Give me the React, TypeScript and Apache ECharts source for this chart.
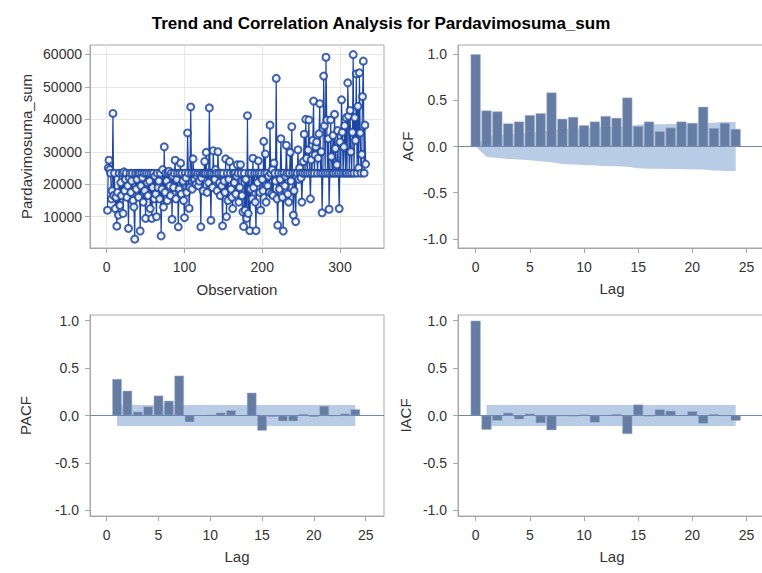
import React, { useEffect, useRef } from "react";
import * as echarts from "echarts";

// Pardavimosuma_sum by observation number (1..333)
const salesSum = [
  12000, 25000, 27400, 24500, 23400, 15500, 18000, 41800, 16500, 23400,
  12500, 16000, 7100, 17500, 10500, 23400, 13500, 20500, 16500, 23400,
  11000, 23800, 18000, 21500, 23400, 16000, 19500, 6400, 22000, 23400,
  17500, 21000, 23400, 15000, 13000, 3100, 23400, 18500, 21500, 23400,
  16000, 23400, 5600, 19500, 23400, 22000, 14500, 23400, 18000, 9500,
  23400, 20500, 16500, 23400, 21000, 12500, 23400, 9500, 19000, 23400,
  15500, 22500, 17000, 10000, 23400, 19000, 21000, 15500, 23400, 4100,
  18500, 24500, 13000, 31500, 17500, 23400, 21000, 15000, 23400, 24000,
  19500, 16500, 23400, 9200, 22500, 19000, 23400, 27400, 15500, 21500,
  23400, 6900, 18500, 23400, 26500, 17000, 23400, 21000, 15000, 9700,
  23400, 22000, 17500, 35800, 23400, 12600, 19000, 43800, 23400, 18500,
  27800, 23400, 21500, 23400, 20000, 22500, 23400, 19500, 21000, 23400,
  6900, 22000, 23400, 18000, 23400, 27000, 23400, 29800, 17500, 23400,
  20500, 43500, 23400, 8900, 23400, 19000, 30300, 23400, 21500, 24500,
  23400, 18000, 30000, 23400, 20500, 16500, 23400, 19500, 7200, 23400,
  21000, 17500, 27800, 10000, 23400, 15000, 21500, 27000, 23400, 18500,
  16000, 12500, 23400, 20500, 23400, 17000, 22500, 26000, 23400, 14500,
  19000, 26000, 23400, 16500, 11500, 7000, 23400, 12000, 21500, 9500,
  41100, 11000, 23400, 5700, 18500, 23400, 15500, 28000, 19000, 23400,
  14500, 5700, 23400, 20500, 27200, 23400, 17500, 12000, 23400, 21500,
  18000, 33200, 23400, 29300, 14500, 23400, 19500, 22500, 17500, 38200,
  23400, 17000, 24500, 16500, 26500, 23400, 21000, 52600, 15500, 7400,
  23400, 18500, 21500, 34000, 23400, 16000, 5600, 23400, 19500, 22500,
  32000, 23400, 17000, 14500, 23400, 29800, 21000, 37700, 23400, 10500,
  18000, 23400, 8500, 22500, 23400, 30600, 21500, 25000, 23400, 22000,
  14500, 23400, 27000, 35400, 23400, 40000, 28000, 23400, 30500, 39800,
  23400, 15500, 27500, 23400, 33500, 45600, 23400, 29000, 31500, 33000,
  23400, 28000, 35500, 44800, 23400, 30000, 11200, 23400, 53300, 38000,
  23400, 59100, 39800, 23400, 34000, 12300, 23400, 39800, 28500, 23400,
  35000, 23400, 41500, 31000, 23400, 26000, 36500, 23400, 12500, 33000,
  23400, 46000, 36000, 23400, 31500, 38000, 23400, 40500, 23400, 51200,
  41000, 23400, 42700, 30000, 23400, 36000, 59900, 23400, 40500, 33500,
  54000, 23400, 44000, 25000, 54300, 35800, 23400, 29200, 47000, 57900,
  23400, 38200, 26200,
];

const lagsFrom0 = [0, 1, 2, 3, 4, 5, 6, 7, 8, 9, 10, 11, 12, 13, 14, 15, 16, 17, 18, 19, 20, 21, 22, 23, 24];
const lagsFrom1 = [1, 2, 3, 4, 5, 6, 7, 8, 9, 10, 11, 12, 13, 14, 15, 16, 17, 18, 19, 20, 21, 22, 23, 24];

const acfValues = [
  1.0, 0.39, 0.38, 0.25, 0.27, 0.34, 0.36, 0.585, 0.3, 0.32, 0.23, 0.27, 0.33,
  0.31, 0.53, 0.22, 0.27, 0.165, 0.205, 0.27, 0.255, 0.43, 0.2, 0.255, 0.19,
];
// two standard-error limits for the ACF (lags 0..24)
const acfLimit = [
  0, 0.11, 0.125, 0.135, 0.14, 0.15, 0.16, 0.17, 0.19, 0.195, 0.2, 0.205, 0.21,
  0.215, 0.22, 0.235, 0.24, 0.24, 0.245, 0.245, 0.25, 0.25, 0.26, 0.265, 0.265,
];

const pacfValues = [
  0.385, 0.26, 0.04, 0.095, 0.21, 0.155, 0.42, -0.07, 0.0, 0.005, 0.03, 0.055,
  0.0, 0.24, -0.16, -0.015, -0.06, -0.06, 0.015, -0.015, 0.1, -0.005, 0.02, 0.065,
];
const pacfLimit = [
  0.11, 0.11, 0.11, 0.11, 0.11, 0.11, 0.11, 0.11, 0.11, 0.11, 0.11, 0.11,
  0.11, 0.11, 0.11, 0.11, 0.11, 0.11, 0.11, 0.11, 0.11, 0.11, 0.11, 0.11,
];

const iacfValues = [
  1.0, -0.15, -0.055, 0.03, -0.04, 0.02, -0.08, -0.155, -0.005, -0.01, 0.01,
  -0.075, 0.0, 0.015, -0.195, 0.115, -0.01, 0.065, 0.05, 0.0, 0.045, -0.085,
  0.015, -0.005, -0.055,
];
const iacfLimit = [
  0.11, 0.11, 0.11, 0.11, 0.11, 0.11, 0.11, 0.11, 0.11, 0.11, 0.11, 0.11,
  0.11, 0.11, 0.11, 0.11, 0.11, 0.11, 0.11, 0.11, 0.11, 0.11, 0.11, 0.11,
];

const observationTicks = [0, 100, 200, 300];
const salesTicks = [10000, 20000, 30000, 40000, 50000, 60000];
const lagTicks = [0, 5, 10, 15, 20, 25];
const corrTicks = [-1, -0.5, 0, 0.5, 1];

const FONT = "Liberation Sans";
const FRAME = "#a4a8ad";
const TEXT = "#333333";
const SERIES_BLUE = "#1d46a3";
const BAR_FILL = "#667da3";
const BAND_FILL = "#b8cce6";
const ZERO_LINE = "#7088b0";

function valueAxis(
  gridIndex: number,
  min: number,
  max: number,
  ticks: number[],
  name: string,
  nameGap: number,
  labelMargin: number,
  fmt: (v: number) => string,
  grid: boolean
) {
  return {
    type: "value",
    gridIndex,
    min,
    max,
    name,
    nameLocation: "middle",
    nameGap,
    nameTextStyle: { fontFamily: FONT, fontSize: 15, color: TEXT },
    axisLine: { show: true, onZero: false, lineStyle: { color: FRAME, width: 1 } },
    axisTick: {
      show: true,
      inside: false,
      customValues: ticks,
      length: 5,
      lineStyle: { color: FRAME, width: 1 },
    },
    axisLabel: {
      customValues: ticks,
      formatter: fmt,
      fontFamily: FONT,
      fontSize: 14,
      color: TEXT,
      margin: labelMargin,
    },
    splitLine: grid
      ? { show: true, lineStyle: { color: "#e6e6e6", width: 1 } }
      : { show: false },
  };
}

const corrFmt = (v: number) => v.toFixed(1);
const intFmt = (v: number) => String(Math.round(v));

function bandSeries(axis: number, lags: number[], limit: number[]) {
  const base = {
    type: "line",
    xAxisIndex: axis,
    yAxisIndex: axis,
    symbol: "none",
    silent: true,
    lineStyle: { width: 0, opacity: 0 },
    areaStyle: { color: BAND_FILL, opacity: 1 },
    z: 1,
  };
  return [
    { ...base, data: lags.map((l, i) => [l, limit[i]]) },
    { ...base, data: lags.map((l, i) => [l, -limit[i]]) },
  ];
}

function barSeries(axis: number, lags: number[], values: number[], width: number) {
  return {
    type: "bar",
    xAxisIndex: axis,
    yAxisIndex: axis,
    barWidth: width,
    data: lags.map((l, i) => [l, values[i]]),
    itemStyle: { color: BAR_FILL, borderColor: "#9fb0cc", borderWidth: 0.5 },
    z: 2,
    markLine: {
      silent: true,
      symbol: "none",
      label: { show: false },
      lineStyle: { color: ZERO_LINE, width: 1, type: "solid" },
      data: [{ yAxis: 0 }],
      z: 3,
    },
  };
}

export default function App() {
  const ref = useRef<HTMLDivElement>(null);

  useEffect(() => {
    if (!ref.current) return;
    const chart = echarts.init(ref.current, null, { renderer: "svg" });

    const gridBase = {
      show: true,
      borderColor: FRAME,
      borderWidth: 1,
      backgroundColor: "transparent",
      containLabel: false,
      outerBoundsMode: "none",
    };

    chart.setOption({
      animation: false,
      backgroundColor: "#ffffff",
      textStyle: { fontFamily: FONT },
      title: {
        text: "Trend and Correlation Analysis for Pardavimosuma_sum",
        left: "center",
        top: 10,
        textStyle: { fontFamily: FONT, fontSize: 17, fontWeight: "bold", color: "#000000" },
      },
      grid: [
        { ...gridBase, left: 90, top: 45, width: 294, height: 203 },
        { ...gridBase, left: 458, top: 45, width: 308, height: 203 },
        { ...gridBase, left: 90, top: 315, width: 294, height: 201 },
        { ...gridBase, left: 458, top: 315, width: 308, height: 201 },
      ],
      xAxis: [
        valueAxis(0, -21.5, 356.6, observationTicks, "Observation", 34, 12, intFmt, true),
        valueAxis(1, -1.63, 26.8, lagTicks, "Lag", 33, 12, intFmt, false),
        valueAxis(2, -1.61, 26.77, lagTicks, "Lag", 33, 12, intFmt, false),
        valueAxis(3, -1.63, 26.8, lagTicks, "Lag", 33, 12, intFmt, false),
      ],
      yAxis: [
        valueAxis(0, 370, 62870, salesTicks, "Pardavimosuma_sum", 56, 8, intFmt, true),
        valueAxis(1, -1.1, 1.1, corrTicks, "ACF", 43, 11, corrFmt, false),
        valueAxis(2, -1.06, 1.06, corrTicks, "PACF", 57, 11, corrFmt, false),
        valueAxis(3, -1.06, 1.06, corrTicks, "IACF", 45, 11, corrFmt, false),
      ],
      series: [
        {
          type: "line",
          xAxisIndex: 0,
          yAxisIndex: 0,
          data: salesSum.map((v, i) => [i + 1, v]),
          symbol: "emptyCircle",
          symbolSize: 7,
          showAllSymbol: true,
          lineStyle: { color: SERIES_BLUE, width: 1.2 },
          itemStyle: { color: SERIES_BLUE, borderWidth: 1, opacity: 0.85 },
          z: 3,
        },
        ...bandSeries(1, lagsFrom0, acfLimit),
        barSeries(1, lagsFrom0, acfValues, 10),
        ...bandSeries(2, lagsFrom1, pacfLimit),
        barSeries(2, lagsFrom1, pacfValues, 9.5),
        ...bandSeries(3, lagsFrom1, iacfLimit),
        barSeries(3, lagsFrom0, iacfValues, 10),
      ],
    });

    return () => chart.dispose();
  }, []);

  return (
    <div
      ref={ref}
      style={{ position: "absolute", left: 0, top: 0, width: 762, height: 573 }}
    />
  );
}
